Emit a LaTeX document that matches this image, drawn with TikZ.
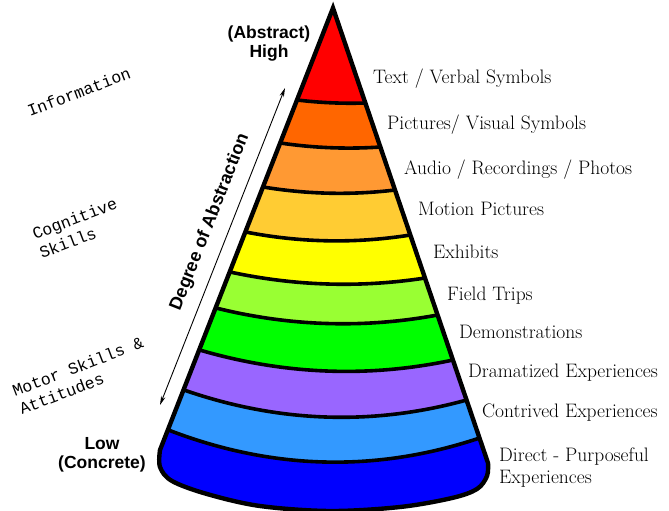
\documentclass[tikz,border=0pt]{standalone}
\usepackage{fontspec}
\usetikzlibrary{arrows.meta,calc}
\newfontfamily\lsans{Liberation Sans}
\newfontfamily\lmono{Liberation Mono}
\definecolor{cRed}{HTML}{FF0000}
\definecolor{cOrange}{HTML}{FF6600}
\definecolor{cLOrange}{HTML}{FF9933}
\definecolor{cYOrange}{HTML}{FFCC33}
\definecolor{cYellow}{HTML}{FFFF00}
\definecolor{cLGreen}{HTML}{99FF33}
\definecolor{cGreen}{HTML}{00FF00}
\definecolor{cPurple}{HTML}{9966FF}
\definecolor{cLBlue}{HTML}{3399FF}
\definecolor{cBlue}{HTML}{0000FF}
\newcommand{\bandcalc}[3]{%
  \pgfmathsetmacro\bxl{333-0.39*(#1-8)}%
  \pgfmathsetmacro\bxr{333+0.341*(#2-8)}%
  \pgfmathsetmacro\bcax{\bxl+(\bxr-\bxl)/3}%
  \pgfmathsetmacro\bcbx{\bxl+2*(\bxr-\bxl)/3}%
  \pgfmathsetmacro\bcay{#1+(#2-#1)/3+4*#3/3}%
  \pgfmathsetmacro\bcby{#1+2*(#2-#1)/3+4*#3/3}%
}
\tikzset{
  lbl/.style={font=\fontsize{19.5}{23}\selectfont, anchor=base west, inner sep=0pt, text=black},
  skill/.style={font=\lmono\fontsize{16.5}{19}\selectfont, rotate=21, anchor=base west, inner sep=0pt},
  pole/.style={font=\lsans\bfseries\fontsize{17.5}{20}\selectfont, anchor=base, inner sep=0pt},
  degree/.style={font=\lsans\bfseries\fontsize{18}{20}\selectfont, rotate=68.5, inner sep=0pt},
  bound/.style={line width=3.6pt, black},
  outline/.style={line width=4.4pt, black},
  darrow/.style={line width=0.9pt, {Stealth[length=9pt,width=4.5pt]}-{Stealth[length=9pt,width=4.5pt]}}
}
\begin{document}
\begin{tikzpicture}[x=1pt,y=-1pt]
\useasboundingbox (0,0) rectangle (669,511);
\begin{scope}
  \clip (333,8) -- plot[smooth, tension=0.55] coordinates {(160,450) (160,467) (172,481) (207,494) (260,506) (330,511) (400,507) (452,498) (477,489) (487,476) (488,463)} -- cycle;
  \fill[cRed] (100,0) rectangle (600,520);
  \foreach \yl/\yr/\s/\c in {100/103/1.3/cOrange, 143/147/2.7/cLOrange, 187/190/4.7/cYOrange, 232/235/7.3/cYellow, 272/278/9/cLGreen, 308/315/12/cGreen, 350/360/16/cPurple, 390/400/22/cLBlue, 430/438/28/cBlue}{
    \bandcalc{\yl}{\yr}{\s}
    \fill[\c] (\bxl-60,\yl) -- (\bxl,\yl) .. controls (\bcax,\bcay) and (\bcbx,\bcby) .. (\bxr,\yr) -- (\bxr+60,\yr) -- (\bxr+60,600) -- (\bxl-60,600) -- cycle;
  }
  \foreach \yl/\yr/\s in {100/103/1.3, 143/147/2.7, 187/190/4.7, 232/235/7.3, 272/278/9, 308/315/12, 350/360/16, 390/400/22, 430/438/28}{
    \bandcalc{\yl}{\yr}{\s}
    \draw[bound] (\bxl-10,\yl) -- (\bxl,\yl) .. controls (\bcax,\bcay) and (\bcbx,\bcby) .. (\bxr,\yr) -- (\bxr+10,\yr);
  }
\end{scope}
\draw[outline] (333,8) -- plot[smooth, tension=0.55] coordinates {(160,450) (160,467) (172,481) (207,494) (260,506) (330,511) (400,507) (452,498) (477,489) (487,476) (488,463)} -- cycle;

% right labels
\node[lbl] (l1) at (373,83) {Text / Verbal Symbols};
\node[lbl] (l2) at (387,129) {Pictures/ Visual Symbols};
\node[lbl] (l3) at (404,174) {Audio / Recordings / Photos};
\node[lbl] (l4) at (418,215) {Motion Pictures};
\node[lbl] (l5) at (433,258) {Exhibits};
\node[lbl] (l6) at (447,300) {Field Trips};
\node[lbl] (l7) at (459,338) {Demonstrations};
\node[lbl] (l8) at (468,377) {Dramatized Experiences};
\node[lbl] (l9) at (482,417) {Contrived Experiences};
\node[lbl] (l10a) at (499,461) {Direct - Purposeful};
\node[lbl] (l10b) at (499,483) {Experiences};

% left labels
\node[skill] (info) at (30,117) {Information};
\node[skill] (cog1) at (35,240) {Cognitive};
\node[skill] (cog2) at (42,259) {Skills};
\node[skill] (mot1) at (15,397) {Motor Skills \&};
\node[skill] (mot2) at (22,415) {Attitudes};

% poles
\node[pole] (abs) at (269,39) {(Abstract)};
\node[pole] (high) at (269,57) {High};
\node[pole] (low) at (102,449) {Low};
\node[pole] (conc) at (102,468) {(Concrete)};

% degree arrow
\coordinate (dlo) at (160,405);
\coordinate (dhi) at (285,88);
\draw[darrow] (dlo) -- (dhi);
\node[degree] (deg) at (210,222) {Degree of Abstraction};
\end{tikzpicture}
\end{document}
